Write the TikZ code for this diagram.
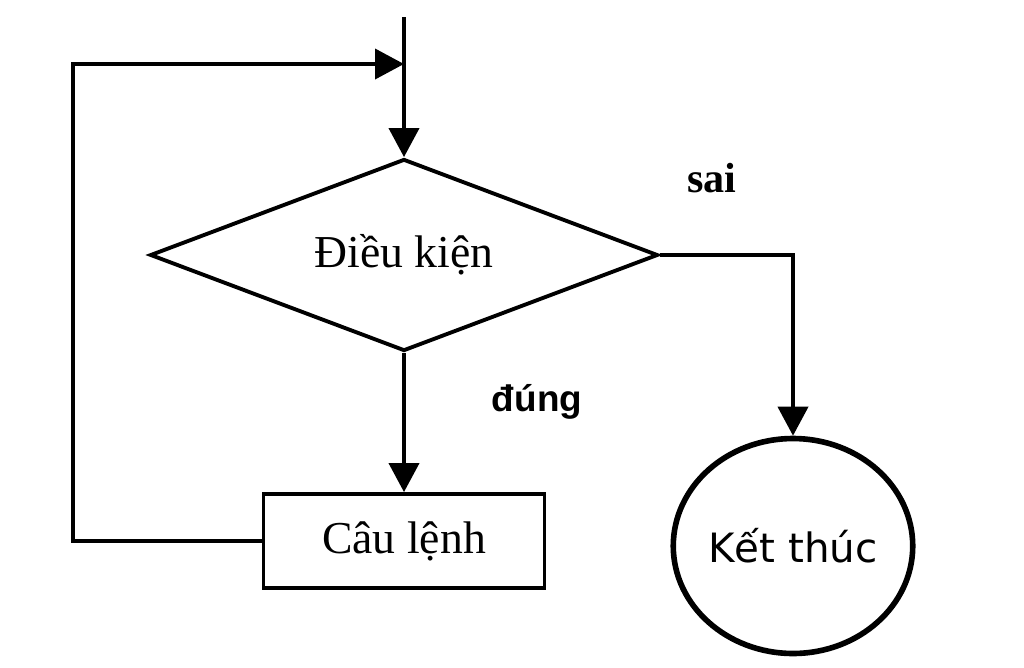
\documentclass[tikz,border=0pt]{standalone}
\usepackage{fontspec}
\setmainfont{Liberation Serif}
\newfontfamily\ketfont{DejaVu Sans}
\newfontfamily\lblfont{Liberation Sans}
\usetikzlibrary{shapes.geometric,arrows.meta}
\tikzset{
  ln/.style={line width=2.2pt,line join=miter},
  arr/.style={ln,-{Triangle[length=0.58cm,width=0.6cm]}},
  decbox/.style={shape=diamond,draw,ln,inner sep=0pt,minimum width=10.16cm,minimum height=3.84cm,aspect=2.646,font=\fontsize{26}{30}\selectfont},
  stmtbox/.style={draw,ln,inner sep=0pt,minimum width=5.62cm,minimum height=1.88cm,font=\fontsize{26}{30}\selectfont},
  endbox/.style={shape=ellipse,draw,line width=3.2pt,inner sep=0pt,minimum width=4.7cm,minimum height=4.3cm,font=\ketfont\fontsize{23}{27}\selectfont},
  lbl/.style={inner sep=0pt}
}
\begin{document}
\begin{tikzpicture}[x=0.02cm,y=-0.02cm]
\useasboundingbox (0,0) rectangle (1024,667);
\node[decbox] (dk) at (404,255) {Điều kiện};
\node[stmtbox] (cl) at (404,541) {Câu lệnh};
\node[endbox] (kt) at (793,546) {Kết thúc};
\coordinate (top) at (404,17);
\coordinate (j) at (404,64);
\coordinate (lc) at (73,64);
\node[lbl,font=\bfseries\fontsize{24}{28}\selectfont] (sai) at (712,178) {sai};
\node[lbl,font=\lblfont\bfseries\fontsize{21}{25}\selectfont] (dung) at (537,402) {đúng};
\draw[arr] (top) -- (dk.north);
\draw[arr] (dk.south) -- (cl.north);
\draw[arr] (dk.east) -| (kt.north);
\draw[arr] (cl.west) -| (lc) -- (j);
\end{tikzpicture}
\end{document}
